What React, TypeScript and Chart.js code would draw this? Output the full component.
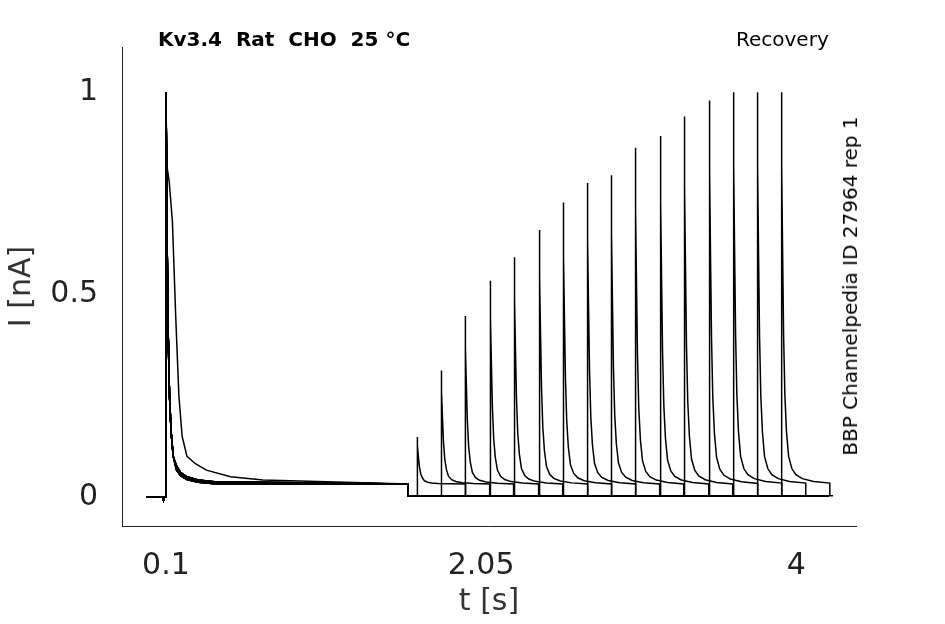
import React, { useEffect, useRef } from "react";
import { Chart, registerables } from "chart.js";
Chart.register(...registerables);

const xTicks = [0.1, 2.05, 4];
const yTicks = [0, 0.5, 1];
// second-pulse onset times (s) and peaks (nA)
const pulseTimes = [1.654, 1.803, 1.951, 2.106, 2.255, 2.41, 2.558, 2.707, 2.855, 3.004, 3.159, 3.307, 3.462, 3.611, 3.759, 3.908];
const pulsePeaks = [0.12, 0.29, 0.43, 0.52, 0.58, 0.65, 0.72, 0.77, 0.79, 0.86, 0.89, 0.94, 0.98, 1.0, 1.0, 1.0];
// normalized decay shape after peak: [dt (s), fraction of peak]
const fastDecayDt = [0, 0.004, 0.008, 0.014, 0.022, 0.032, 0.045, 0.065, 0.09, 0.13, 0.2, 0.3];
const fastDecayY = [1, 0.82, 0.6, 0.4, 0.25, 0.16, 0.1, 0.07, 0.055, 0.045, 0.038, 0.034];
const slowDecayDt = [0, 0.005, 0.02, 0.04, 0.06, 0.08, 0.1, 0.13, 0.18, 0.25, 0.4, 0.6];
const slowDecayY = [1, 0.82, 0.78, 0.68, 0.45, 0.25, 0.15, 0.1, 0.075, 0.06, 0.045, 0.038];
const plateau = 0.032;
const stepOn = 0.1;
const stepOff = 1.598;
const pulseLen = 0.3;

function buildTrace(i: number) {
  const pts: { x: number; y: number }[] = [];
  pts.push({ x: -0.02, y: 0 }, { x: 0.08, y: 0 }, { x: 0.085, y: -0.008 }, { x: 0.09, y: 0 }, { x: stepOn, y: 0 });
  const slow = i === 0;
  const dts = slow ? slowDecayDt : fastDecayDt;
  const ys = slow ? slowDecayY : fastDecayY;
  const tail = i % 3 === 0 ? 1.1 : i % 3 === 1 ? 0.95 : 1.05;
  dts.forEach((d, k) => {
    const v = ys[k];
    pts.push({ x: stepOn + d, y: v < 0.1 ? v * tail : v });
  });
  pts.push({ x: stepOff, y: plateau }, { x: stepOff, y: 0.003 });
  const t = pulseTimes[i];
  const p = pulsePeaks[i];
  pts.push({ x: t, y: 0.003 });
  fastDecayDt.forEach((d, k) => {
    pts.push({ x: t + d, y: Math.max(p * fastDecayY[k], plateau + (fastDecayY[k] - fastDecayY[fastDecayY.length - 1]) * p) });
  });
  pts.push({ x: t + pulseLen, y: plateau }, { x: t + pulseLen, y: 0.003 });
  pts.push({ x: Math.max(t + pulseLen + 0.02, 4.2), y: 0.003 });
  return pts;
}

export default function App() {
  const ref = useRef<HTMLCanvasElement>(null);
  useEffect(() => {
    const datasets = pulseTimes.map((_, i) => ({
      data: buildTrace(i),
      borderColor: "#000",
      borderWidth: 1.5,
      pointRadius: 0,
      fill: false,
      tension: 0,
    }));
    const font = { family: "DejaVu Sans", size: 30 };
    const chart = new Chart(ref.current!, {
      type: "line",
      data: { datasets },
      options: {
        animation: false,
        responsive: false,
        parsing: false,
        layout: { padding: { top: 47, right: 89 } },
        plugins: { legend: { display: false }, tooltip: { enabled: false } },
        scales: {
          x: {
            type: "linear",
            min: -0.172,
            max: 4.37,
            afterBuildTicks: (s: any) => { s.ticks = xTicks.map((v) => ({ value: v })); },
            afterFit: (s: any) => { s.height = 98; },
            grid: { display: false },
            border: { display: true, color: "#222", width: 1 },
            ticks: { color: "#222", font, padding: 14, callback: (v: any) => String(v) },
            title: { display: true, text: "t [s]", color: "#333", font, padding: { top: 0 } },
          },
          y: {
            min: -0.072,
            max: 1.112,
            afterBuildTicks: (s: any) => { s.ticks = yTicks.map((v) => ({ value: v })); },
            afterFit: (s: any) => { s.width = 122; },
            grid: { display: false },
            border: { display: true, color: "#222", width: 1 },
            ticks: { color: "#222", font, padding: 16, callback: (v: any) => String(v) },
            title: { display: true, text: "I [nA]", color: "#333", font, padding: { bottom: 4 } },
          },
        },
      },
    });
    return () => chart.destroy();
  }, []);
  return (
    <div style={{ position: "absolute", left: 0, top: 0, width: 945, height: 624, background: "#fff", fontFamily: "DejaVu Sans" }}>
      <canvas ref={ref} width={945} height={624} style={{ display: "block" }} />
      <div style={{ position: "absolute", left: 158, top: 27, fontSize: 20, fontWeight: "bold", whiteSpace: "pre" }}>
        {"Kv3.4  Rat  CHO  25 °C"}
      </div>
      <div style={{ position: "absolute", left: 736, top: 27, fontSize: 20 }}>Recovery</div>
      <div style={{ position: "absolute", left: 850, top: 286, transform: "translate(-50%,-50%) rotate(-90deg)", fontSize: 20, whiteSpace: "nowrap" }}>
        BBP Channelpedia ID 27964 rep 1
      </div>
    </div>
  );
}
